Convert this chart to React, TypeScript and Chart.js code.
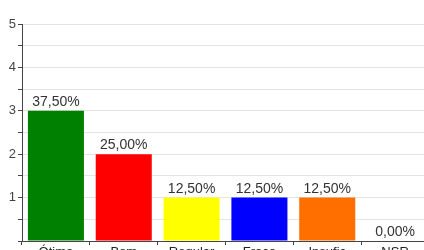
import React, { useEffect, useRef } from "react";
import { Chart, registerables } from "chart.js";

Chart.register(...registerables);

const categories = ["Ótimo", "Bom", "Regular", "Fraco", "Insufic", "NSR"];
const counts = [3, 2, 1, 1, 1, 0];
const percentLabels = ["37,50%", "25,00%", "12,50%", "12,50%", "12,50%", "0,00%"];
const barColors = ["#008000", "#ff0000", "#ffff00", "#0000ff", "#ff6f00", "#999999"];
const yMax = 5;
const yStep = 0.5;

const FONT = "'Liberation Sans', Arial, sans-serif";

const valueLabelPlugin = {
  id: "valueLabels",
  afterDatasetsDraw(chart: any) {
    const ctx = chart.ctx;
    const meta = chart.getDatasetMeta(0);
    ctx.save();
    ctx.font = `14px ${FONT}`;
    ctx.fillStyle = "#333333";
    ctx.textAlign = "center";
    ctx.textBaseline = "alphabetic";
    meta.data.forEach((bar: any, i: number) => {
      ctx.fillText(percentLabels[i], bar.x, bar.y - 5);
    });
    ctx.restore();
  },
};

export default function App() {
  const ref = useRef<HTMLCanvasElement>(null);
  useEffect(() => {
    if (!ref.current) return;
    const chart = new Chart(ref.current, {
      type: "bar",
      data: {
        labels: categories,
        datasets: [
          {
            data: counts,
            backgroundColor: barColors,
            borderWidth: 0,
            barPercentage: 0.826,
            categoryPercentage: 1,
          },
        ],
      },
      options: {
        responsive: false,
        animation: false,
        devicePixelRatio: 1,
        layout: { padding: { top: 24, right: 3, left: 0, bottom: 0 } },
        plugins: { legend: { display: false }, tooltip: { enabled: false } },
        scales: {
          x: {
            afterFit: (s: any) => {
              s.height = 21;
            },
            grid: {
              offset: true,
              drawOnChartArea: false,
              tickLength: 4,
              tickColor: "#444444",
            },
            border: { display: true, color: "#444444", width: 1 },
            ticks: {
              font: { family: FONT, size: 13 },
              color: "#222222",
              padding: 0,
              maxRotation: 0,
              autoSkip: false,
            },
          },
          y: {
            min: 0,
            max: yMax,
            afterFit: (s: any) => {
              s.width = 22;
            },
            grid: {
              color: "#e4e4e4",
              tickLength: 4,
              tickColor: "#444444",
            },
            border: { display: true, color: "#444444", width: 1 },
            ticks: {
              stepSize: yStep,
              font: { family: FONT, size: 13 },
              color: "#444444",
              padding: 2,
              callback: (v: any) => (Number(v) > 0 && Number.isInteger(Number(v)) ? String(v) : ""),
            },
          },
        },
      },
      plugins: [valueLabelPlugin],
    });
    return () => chart.destroy();
  }, []);
  return (
    <div style={{ position: "absolute", left: 0, top: 0, background: "#fff" }}>
      <canvas ref={ref} width={432} height={262} style={{ display: "block" }} />
    </div>
  );
}
